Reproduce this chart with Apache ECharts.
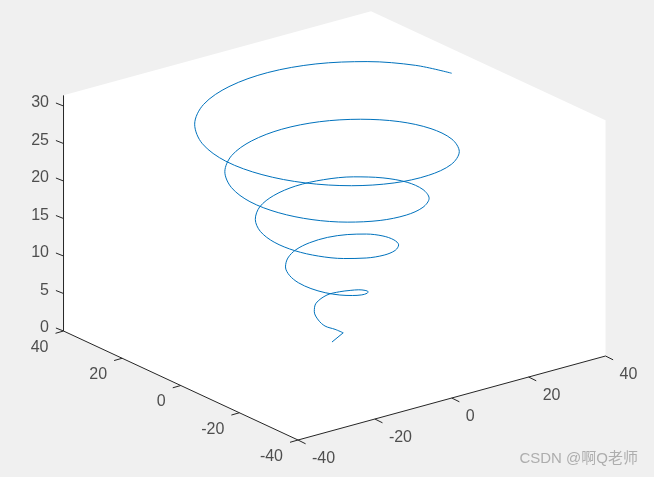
<!DOCTYPE html>
<html>
<head>
<meta charset="utf-8">
<style>
  html, body { margin: 0; padding: 0; background: #f0f0f0; }
  #main { width: 654px; height: 477px; }
</style>
<script src="https://cdn.jsdelivr.net/npm/echarts@6/dist/echarts.min.js"></script>
</head>
<body>
<div id="main"></div>
<script>
// spiral values
var xValues = [0.1, 1.5, -1.0, -3.6, -3.9, -3.2, -1.0, 2.0, 4.3, 5.6,
  6.3, 6.2, 5.3, 3.7, 1.3, -1.4, -4.2, -6.7, -8.5, -9.4, -9.2, -7.8, -5.2, -1.9, 1.9, 5.8, 9.1, 11.5,
  12.6, 12.1, 10.2, 6.8, 2.4, -2.5, -7.3, -11.5, -14.4, -15.7, -15.1, -12.6, -8.4, -3.0, 3.0, 8.9, 13.9, 17.4,
  18.9, 18.0, 15.0, 9.9, 3.5, -3.6, -10.5, -16.3, -20.3, -22.0, -21.0, -17.4, -11.5, -4.1, 4.1, 12.0, 18.7, 23.3,
  25.1, 23.9, 19.8, 13.1, 4.6, -4.7, -13.6, -21.1, -26.2, -28.3, -26.9, -22.2, -14.7, -5.2, 5.2, 15.2, 23.5, 29.2,
  31.4];
var yValues = [1.0, -1.0, -1.5, -1.5, 0.4, 2.7, 5.0, 5.2, 3.9, 2.0,
  0, -2.3, -4.5, -6.3, -7.6, -7.9, -7.3, -5.6, -3.1, 0, 3.3, 6.5, 9.1, 10.7, 11.0, 10.0, 7.6, 4.2,
  0, -4.4, -8.5, -11.8, -13.8, -14.1, -12.7, -9.6, -5.3, 0, 5.5, 10.5, 14.5, 16.8, 17.2, 15.4, 11.7, 6.3,
  0, -6.6, -12.6, -17.2, -19.9, -20.3, -18.1, -13.7, -7.4, 0, 7.6, 14.6, 20.0, 23.0, 23.4, 20.9, 15.7, 8.5,
  0, -8.7, -16.6, -22.7, -26.1, -26.5, -23.6, -17.7, -9.6, 0, 9.8, 18.6, 25.4, 29.2, 29.6, 26.3, 19.7, 10.6,
  1.2];
var zValues = [0, 1.4, 2.3, 3.1, 3.6, 4.2, 4.6, 5.24, 5.59, 5.93,
  6.28, 6.63, 6.98, 7.33, 7.68, 8.03, 8.38, 8.73, 9.08, 9.42, 9.77, 10.12, 10.47, 10.82, 11.17, 11.52, 11.87, 12.22,
  12.57, 12.92, 13.27, 13.61, 13.96, 14.31, 14.66, 15.01, 15.36, 15.71, 16.06, 16.41, 16.76, 17.1, 17.45, 17.8, 18.15, 18.5,
  18.85, 19.2, 19.55, 19.9, 20.25, 20.6, 20.94, 21.29, 21.64, 21.99, 22.34, 22.69, 23.04, 23.39, 23.74, 24.09, 24.43, 24.78,
  25.13, 25.48, 25.83, 26.18, 26.53, 26.88, 27.23, 27.58, 27.93, 28.27, 28.62, 28.97, 29.32, 29.67, 30.02, 30.37, 30.72, 31.07,
  31.42];

var xTicks = [-40, -20, 0, 20, 40];
var yTicks = [40, 20, 0, -20, -40];
var zTicks = [0, 5, 10, 15, 20, 25, 30];
var xLim = [-40, 40];
var yLim = [-40, 40];
var zLim = [0, 31.42];
var watermark = 'CSDN @啊Q老师';

// az/el view of the box, units to screen pixels
function project(x, y, z) {
  var dx = x + 40, dy = y + 40;
  return [298 + dx * 3.844 - dy * 2.931, 440 - dx * 1.05 - dy * 1.3625 - z * 7.5];
}

var spiral = xValues.map(function (x, i) {
  return project(x, yValues[i], zValues[i]);
});

var wall = [
  project(xLim[0], yLim[1], zLim[0]),
  project(xLim[0], yLim[1], zLim[1]),
  project(xLim[1], yLim[1], zLim[1]),
  project(xLim[1], yLim[0], zLim[1]),
  project(xLim[1], yLim[0], zLim[0]),
  project(xLim[0], yLim[0], zLim[0])
];

// axis lines and ticks as [x1, y1, x2, y2]
var segments = [];
var labels = [];
function addSegment(a, b) {
  segments.push([a[0], a[1], b[0], b[1]]);
}
addSegment(project(xLim[0], yLim[0], zLim[0]), project(xLim[1], yLim[0], zLim[0]));
addSegment(project(xLim[0], yLim[0], zLim[0]), project(xLim[0], yLim[1], zLim[0]));
addSegment(project(xLim[0], yLim[1], zLim[0]), project(xLim[0], yLim[1], zLim[1]));

xTicks.forEach(function (v) {
  var p = project(v, yLim[0], 0);
  addSegment(p, [p[0] + 7.6, p[1] + 3.8]);
  labels.push({ value: [p[0] + 14, p[1] + 19], name: String(v), align: 'left' });
});
yTicks.forEach(function (v) {
  var p = project(xLim[0], v, 0);
  addSegment(p, [p[0] - 8, p[1] + 2.3]);
  labels.push({ value: [p[0] - 15, p[1] + 16.5], name: String(v), align: 'right' });
});
zTicks.forEach(function (v) {
  var p = project(xLim[0], yLim[1], v);
  addSegment(p, [p[0] - 7.6, p[1] - 3]);
  labels.push({ value: [p[0] - 14.5, p[1] - 3], name: String(v), align: 'right' });
});

var chart = echarts.init(document.getElementById('main'));

var option = {
  backgroundColor: '#f0f0f0',
  animation: false,
  grid: { left: 0, right: 0, top: 0, bottom: 0 },
  xAxis: { type: 'value', min: 0, max: 654, show: false },
  yAxis: { type: 'value', min: 0, max: 477, inverse: true, show: false },
  series: [
    {
      type: 'custom',
      silent: true,
      coordinateSystem: 'cartesian2d',
      data: [[0]],
      renderItem: function (params, api) {
        return {
          type: 'polygon',
          shape: { points: wall.map(function (p) { return api.coord(p); }) },
          style: { fill: '#ffffff' }
        };
      }
    },
    {
      type: 'custom',
      silent: true,
      coordinateSystem: 'cartesian2d',
      data: segments,
      encode: { x: [0, 2], y: [1, 3] },
      renderItem: function (params, api) {
        var a = api.coord([api.value(0), api.value(1)]);
        var b = api.coord([api.value(2), api.value(3)]);
        return {
          type: 'line',
          shape: { x1: a[0], y1: a[1], x2: b[0], y2: b[1] },
          style: { stroke: '#262626', lineWidth: 1 }
        };
      }
    },
    // first stretch is straight, the hook at its end is a sharp corner
    {
      type: 'line',
      silent: true,
      data: spiral.slice(0, 2),
      showSymbol: false,
      lineStyle: { color: '#0072BD', width: 1 },
      z: 3
    },
    {
      type: 'line',
      silent: true,
      data: spiral.slice(1),
      showSymbol: false,
      smooth: 0.33,
      lineStyle: { color: '#0072BD', width: 1 },
      z: 3
    },
    {
      type: 'scatter',
      silent: true,
      symbolSize: 0,
      data: labels.map(function (l) {
        return {
          value: l.value,
          name: l.name,
          label: {
            show: true,
            position: 'inside',
            align: l.align,
            verticalAlign: 'middle',
            formatter: '{b}',
            fontFamily: 'Liberation Sans',
            fontSize: 16,
            color: '#262626'
          }
        };
      }),
      z: 4
    },
    {
      type: 'scatter',
      silent: true,
      symbolSize: 0,
      data: [{
        value: [638, 459],
        name: watermark,
        label: {
          show: true,
          position: 'inside',
          align: 'right',
          verticalAlign: 'middle',
          formatter: '{b}',
          fontFamily: '"Liberation Sans", "Noto Sans CJK SC"',
          fontSize: 15,
          color: '#9c9c9c'
        }
      }],
      z: 4
    }
  ]
};

chart.setOption(option);
</script>
</body>
</html>
